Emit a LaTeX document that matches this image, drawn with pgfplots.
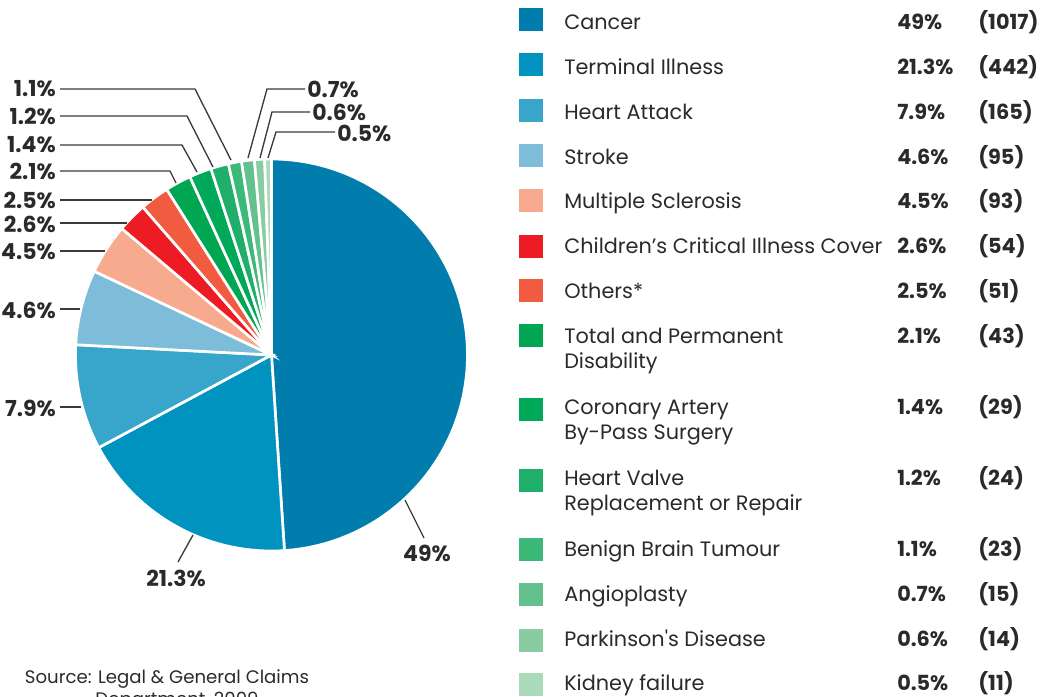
\documentclass[border=0pt]{standalone}
\usepackage{pgfplots}
\pgfplotsset{compat=1.18}
\usepgfplotslibrary{polar}
\usepackage{fontspec}
\setmainfont{Poppins}
\definecolor{txt}{HTML}{2A2A2A}
\definecolor{ln}{HTML}{3A3A3A}
\definecolor{cCancer}{HTML}{007DAD}
\definecolor{cTerm}{HTML}{0093C0}
\definecolor{cHeart}{HTML}{38A6CB}
\definecolor{cStroke}{HTML}{7DBDD9}
\definecolor{cMS}{HTML}{F8AA8E}
\definecolor{cChild}{HTML}{ED1C24}
\definecolor{cOthers}{HTML}{F15B40}
\definecolor{cTPD}{HTML}{00A651}
\definecolor{cCABG}{HTML}{00A85A}
\definecolor{cHV}{HTML}{1FAF6B}
\definecolor{cBBT}{HTML}{3CB878}
\definecolor{cAngio}{HTML}{64C08C}
\definecolor{cPark}{HTML}{87CDA1}
\definecolor{cKidney}{HTML}{ABDAB9}
\newcommand\legfont{\fontsize{15.6}{19}\selectfont}
\newcommand\lblfont{\fontsize{16.5}{19}\selectfont\bfseries}
% #1 square centre, #2 colour, #3 baseline, #4 line 1, #5 line 2, #6 pct, #7 count
\newcommand\legrow[7]{%
  \fill[#2] (519,#1-11.5) rectangle (543,#1+11.5);
  \node[anchor=base west] at (564,#3) {\legfont #4};
  \node[anchor=base west] at (564,#3+25.5) {\legfont #5};
  \node[anchor=base west] at (897,#3) {\legfont\bfseries #6};
  \node[anchor=base west] at (978,#3) {\legfont\bfseries #7};
}
\begin{document}
\begin{tikzpicture}[x=0.75pt,y=-0.75pt,every node/.style={text=txt,inner sep=0pt}]
\useasboundingbox (0,0) rectangle (1051,697);
\begin{polaraxis}[at={(203.6pt,-266.25pt)}, anchor=center,
  width=294pt, height=294pt, scale only axis, hide axis,
  xmin=0, xmax=360, ymin=0, ymax=1, clip=false]
% slices: angular extent (degrees) as drawn in the reference
\addplot[fill=cCancer, draw=white, line width=2pt, domain=-86.2:90, samples=120] {1} -- (axis cs:0,0) -- cycle;
\addplot[fill=cTerm,   draw=white, line width=2pt, domain=-151.8:-86.2, samples=50] {1} -- (axis cs:0,0) -- cycle;
\addplot[fill=cHeart,  draw=white, line width=2pt, domain=-183:-151.8, samples=30] {1} -- (axis cs:0,0) -- cycle;
\addplot[fill=cStroke, draw=white, line width=2pt, domain=154.7:177, samples=20] {1} -- (axis cs:0,0) -- cycle;
\addplot[fill=cMS,     draw=white, line width=2pt, domain=139.8:154.7, samples=15] {1} -- (axis cs:0,0) -- cycle;
\addplot[fill=cChild,  draw=white, line width=2pt, domain=131:139.8, samples=10] {1} -- (axis cs:0,0) -- cycle;
\addplot[fill=cOthers, draw=white, line width=2pt, domain=122.3:131, samples=10] {1} -- (axis cs:0,0) -- cycle;
\addplot[fill=cTPD,    draw=white, line width=2pt, domain=114.6:122.3, samples=10] {1} -- (axis cs:0,0) -- cycle;
\addplot[fill=cCABG,   draw=white, line width=2pt, domain=108:114.6, samples=8] {1} -- (axis cs:0,0) -- cycle;
\addplot[fill=cHV,     draw=white, line width=2pt, domain=102.7:108, samples=6] {1} -- (axis cs:0,0) -- cycle;
\addplot[fill=cBBT,    draw=white, line width=2pt, domain=98.8:102.7, samples=5] {1} -- (axis cs:0,0) -- cycle;
\addplot[fill=cAngio,  draw=white, line width=2pt, domain=95:98.8, samples=5] {1} -- (axis cs:0,0) -- cycle;
\addplot[fill=cPark,   draw=white, line width=2pt, domain=92:95, samples=4] {1} -- (axis cs:0,0) -- cycle;
\addplot[fill=cKidney, draw=white, line width=2pt, domain=90:92, samples=3] {1} -- (axis cs:0,0) -- cycle;
\end{polaraxis}
% leader lines
\begin{scope}[draw=ln, line width=1pt]
\draw (60,89) -- (195,89) -- (231,160);
\draw (60,116) -- (187,116) -- (213,167);
\draw (60,145) -- (182,145) -- (197,172);
\draw (60,171) -- (170,171) -- (176,183);
\draw (60,200) -- (152,200);
\draw (60,223) -- (127,223);
\draw (60,251) -- (105,251);
\draw (60,309) -- (80,309);
\draw (60,407) -- (81,407);
\draw (193,535) -- (178,562);
\draw (405,500) -- (424,538);
\draw (248,158) -- (267,89) -- (305,89);
\draw (260,158) -- (272,112) -- (310,112);
\draw (268,158) -- (276,132) -- (335,132);
\end{scope}
% slice labels
\begin{scope}[every node/.append style={font=\lblfont}]
\node[anchor=east] at (56,89) {1.1\%};
\node[anchor=east] at (56,116) {1.2\%};
\node[anchor=east] at (56,145) {1.4\%};
\node[anchor=east] at (56,171) {2.1\%};
\node[anchor=east] at (56,200) {2.5\%};
\node[anchor=east] at (56,224) {2.6\%};
\node[anchor=east] at (56,252) {4.5\%};
\node[anchor=east] at (56,310) {4.6\%};
\node[anchor=east] at (56,408) {7.9\%};
\node at (176,578) {21.3\%};
\node at (427,553) {49\%};
\node[anchor=west] at (307,89) {0.7\%};
\node[anchor=west] at (312,112) {0.6\%};
\node[anchor=west] at (337,133) {0.5\%};
\end{scope}
% legend table
\legrow{19.5}{cCancer}{29}{Cancer}{}{49\%}{(1017)}
\legrow{64.7}{cTerm}{74}{Terminal Illness}{}{21.3\%}{(442)}
\legrow{110}{cHeart}{119}{Heart Attack}{}{7.9\%}{(165)}
\legrow{155}{cStroke}{164}{Stroke}{}{4.6\%}{(95)}
\legrow{200}{cMS}{208}{Multiple Sclerosis}{}{4.5\%}{(93)}
\legrow{246}{cChild}{253}{Children’s Critical Illness Cover}{}{2.6\%}{(54)}
\legrow{290.5}{cOthers}{298}{Others*}{}{2.5\%}{(51)}
\legrow{335.5}{cTPD}{343}{Total and Permanent}{Disability}{2.1\%}{(43)}
\legrow{409}{cCABG}{414}{Coronary Artery}{By-Pass Surgery}{1.4\%}{(29)}
\legrow{480}{cHV}{485}{Heart Valve}{Replacement or Repair}{1.2\%}{(24)}
\legrow{549.5}{cBBT}{556}{Benign Brain Tumour}{}{1.1\%}{(23)}
\legrow{594.5}{cAngio}{601}{Angioplasty}{}{0.7\%}{(15)}
\legrow{640.5}{cPark}{646}{Parkinson\textquotesingle s Disease}{}{0.6\%}{(14)}
\legrow{684.5}{cKidney}{690}{Kidney failure}{}{0.5\%}{(11)}
% source
\node[anchor=base] at (167,683) {\fontsize{13.6}{17}\selectfont Source: Legal \& General Claims};
\node[anchor=base] at (177,705) {\fontsize{13.6}{17}\selectfont Department, 2009};
\end{tikzpicture}
\end{document}
